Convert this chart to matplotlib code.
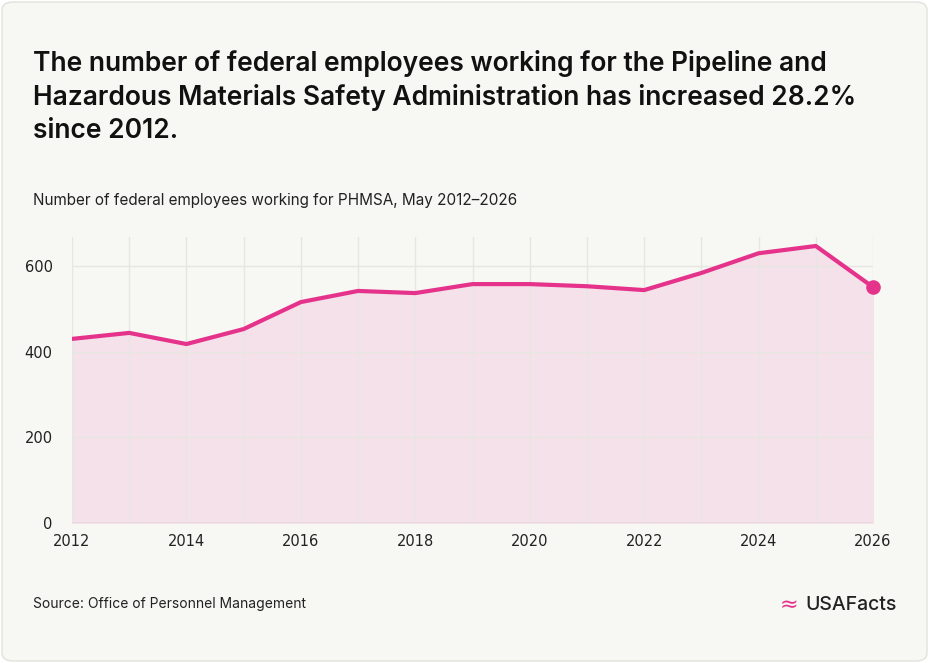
import matplotlib
matplotlib.use("Agg")
import matplotlib.pyplot as plt
from matplotlib.patches import FancyBboxPatch

years = list(range(2012, 2027))
employees = [430, 444, 418, 453, 516, 542, 537, 558, 558, 553, 544, 584, 630, 647, 551]
xticks = list(range(2012, 2027, 2))
yticks = [0, 200, 400, 600]

W, H = 929, 663
fig = plt.figure(figsize=(W/100, H/100), dpi=100)
fig.patch.set_facecolor("white")
card = FancyBboxPatch((2/W, 2/H), 1-4/W, 1-4/H, boxstyle="round,pad=0,rounding_size=0.012",
                      transform=fig.transFigure, facecolor="#f7f7f3", edgecolor="#e2e2dc", lw=1,
                      zorder=-10)
fig.patches.append(card)

ax = fig.add_axes([72/W, 1-523/H, (873-72)/W, (523-237)/H])
ax.set_zorder(5)
ax.set_facecolor("none")
pink = "#e5338b"
ax.fill_between(years, employees, 0, color="#f5e1e9", zorder=1)
ax.plot(years, employees, color=pink, lw=3, zorder=3, solid_capstyle="round")
ax.scatter([years[-1]], [employees[-1]], s=90, color=pink, zorder=4, clip_on=False)
ax.set_xlim(2012, 2026)
ax.set_ylim(0, 668)
ax.set_xticks(xticks)
ax.set_yticks(yticks)
ax.set_xticks(years, minor=True)
ax.grid(True, which="both", axis="x", color="#e6e6e2", lw=1, zorder=0)
ax.grid(True, axis="y", color="#e6e6e2", lw=1, zorder=0)
for s in ax.spines.values():
    s.set_visible(False)
ax.tick_params(which="both", length=0, labelsize=10.5, colors="#222222")
ax.tick_params(axis="x", pad=8)
ax.tick_params(axis="y", pad=14)
ax.axhline(0, color="#bbbbbb", lw=1)

fig.text(33/W, 1-50/H, "The number of federal employees working for the Pipeline and\n"
         "Hazardous Materials Safety Administration has increased 28.2%\nsince 2012.",
         fontsize=19, fontweight="semibold", color="#111111", va="top", linespacing=1.35,
         family="Inter")
fig.text(33/W, 1-200/H, "Number of federal employees working for PHMSA, May 2012\u20132026",
         fontsize=11, color="#222222", va="center", family="Inter")
fig.text(33/W, 1-604/H, "Source: Office of Personnel Management", fontsize=10,
         color="#222222", va="center", family="Inter")
fig.text(897/W, 1-605/H, "USAFacts", fontsize=14, color="#222222", va="center", ha="right",
         family="Inter", fontweight="medium")
fig.text(780/W, 1-605/H, "\u2248", fontsize=16, color=pink, va="center", ha="left")
fig.savefig("out.png", dpi=100, facecolor="white")
